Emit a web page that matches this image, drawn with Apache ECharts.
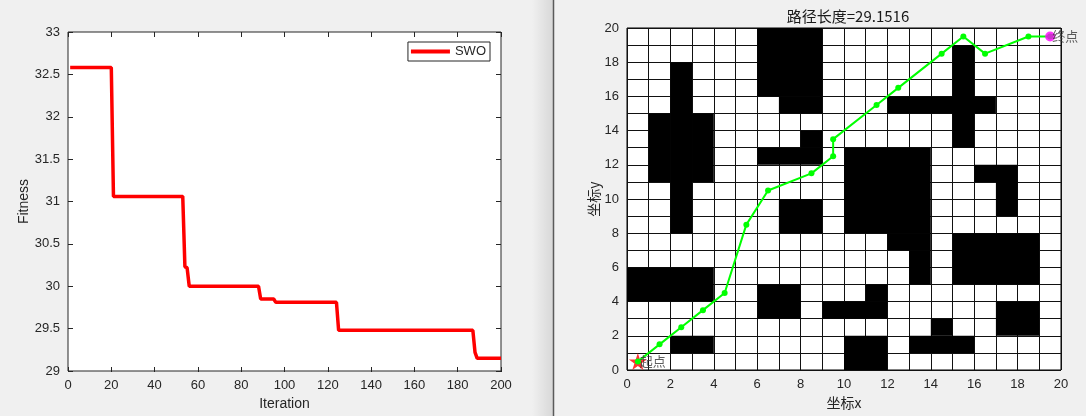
<!DOCTYPE html>
<html>
<head>
<meta charset="utf-8">
<script src="https://cdn.jsdelivr.net/npm/echarts@6/dist/echarts.min.js"></script>
<style>
html,body{margin:0;padding:0;background:#f0f0f0;}
#main{width:1086px;height:416px;}
</style>
</head>
<body>
<div id="main"></div>
<script>
// ---- Left panel: fitness convergence (values read at the step change points) ----
const fitnessIter = [1, 20, 21, 53, 54, 55, 56, 88, 89, 95, 96, 124, 125, 187, 188, 189, 200];
const fitnessVal  = [32.58, 32.58, 31.06, 31.06, 30.23, 30.22, 30.0, 30.0, 29.85, 29.85, 29.81, 29.81, 29.48, 29.48, 29.22, 29.15, 29.15];
const seriesName = 'SWO';

// ---- Right panel: grid map ----
// obstacle blocks: [colStart, rowStart, colEnd, rowEnd] (inclusive cell indices)
const obstacles = [
  [6, 16, 8, 19], [7, 15, 8, 15], [2, 8, 2, 17], [1, 11, 1, 14], [3, 11, 3, 14],
  [8, 13, 8, 13], [6, 12, 8, 12], [10, 8, 13, 12], [12, 7, 13, 7], [13, 5, 13, 6],
  [15, 13, 15, 18], [12, 15, 16, 15], [16, 11, 17, 11], [17, 9, 17, 10],
  [15, 5, 18, 7], [17, 2, 18, 3], [7, 8, 8, 9], [0, 4, 3, 5], [6, 3, 7, 4],
  [9, 3, 11, 3], [11, 4, 11, 4], [14, 2, 14, 2], [13, 1, 15, 1], [10, 0, 11, 1], [2, 1, 3, 1]
];
const pathX = [0.5, 1.5, 2.5, 3.5, 4.5, 5.5, 6.5, 8.5, 9.5, 9.5, 11.5, 12.5, 14.5, 15.5, 16.5, 18.5, 19.5];
const pathY = [0.5, 1.5, 2.5, 3.5, 4.5, 8.5, 10.5, 11.5, 12.5, 13.5, 15.5, 16.5, 18.5, 19.5, 18.5, 19.5, 19.5];
const startPt = [0.5, 0.5];
const endPt = [19.5, 19.5];
const startLabel = '起点';
const endLabel = '终点';
const mapTitle = '路径长度=29.1516';

const FONT = "'Liberation Sans', Arial, 'Noto Sans CJK SC', sans-serif";
const CJK = "'Noto Sans CJK SC', 'Liberation Sans', sans-serif";
const TXT = '#262626';

const chart = echarts.init(document.getElementById('main'));

const starPath = 'path://M50,0 L61.2,34.5 L97.6,34.5 L68.2,55.9 L79.4,90.5 L50,69.1 L20.6,90.5 L31.8,55.9 L2.4,34.5 L38.8,34.5 Z';

const tickOnly = { show: true, length: 5, lineStyle: { color: TXT, width: 1 } };

const option = {
  animation: false,
  backgroundColor: '#f0f0f0',
  textStyle: { fontFamily: FONT },
  title: {
    text: mapTitle,
    left: 843, top: 4, textAlign: 'center',
    textStyle: { fontFamily: CJK, fontSize: 15, fontWeight: 'normal', color: '#1a1a1a' }
  },
  legend: {
    data: [seriesName],
    right: 596, top: 42,
    icon: 'rect', itemWidth: 39, itemHeight: 4, itemGap: 5,
    padding: [3, 4, 3, 3],
    backgroundColor: '#fff', borderColor: TXT, borderWidth: 1, borderRadius: 0,
    textStyle: { fontFamily: FONT, fontSize: 13, color: TXT, padding: [0, 0, 0, 0] }
  },
  graphic: [
    {
      type: 'rect', silent: true, z: 100,
      shape: { x: 532, y: 0, width: 21, height: 416 },
      style: {
        fill: new echarts.graphic.LinearGradient(0, 0, 1, 0, [
          { offset: 0, color: 'rgba(0,0,0,0)' },
          { offset: 1, color: 'rgba(0,0,0,0.10)' }
        ])
      }
    },
    {
      type: 'line', silent: true, z: 101,
      shape: { x1: 553.5, y1: 0, x2: 553.5, y2: 416 },
      style: { stroke: '#5a5a5a', lineWidth: 1.5 }
    }
  ],
  grid: [
    { left: 68, top: 32, width: 433, height: 340, show: true, backgroundColor: '#fff', borderColor: TXT, borderWidth: 1 },
    { left: 627, top: 28, width: 434, height: 342, show: true, backgroundColor: '#fff', borderColor: '#000', borderWidth: 1 }
  ],
  xAxis: [
    {
      gridIndex: 0, type: 'value', min: 0, max: 200, interval: 20,
      name: 'Iteration', nameLocation: 'middle', nameGap: 26,
      nameTextStyle: { fontSize: 14, color: TXT, fontFamily: FONT },
      axisLine: { show: false, onZero: false },
      axisTick: { show: false },
      axisLabel: { fontSize: 13, color: TXT, margin: 8, fontFamily: FONT },
      splitLine: { show: false }
    },
    {
      gridIndex: 0, type: 'value', min: 0, max: 200, interval: 20, position: 'top',
      axisLine: { show: false, onZero: false },
      axisTick: Object.assign({ inside: true }, tickOnly),
      axisLabel: { show: false }, splitLine: { show: false }
    },
    {
      gridIndex: 0, type: 'value', min: 0, max: 200, interval: 20, position: 'top', offset: -340,
      axisLine: { show: false, onZero: false },
      axisTick: Object.assign({ inside: false }, tickOnly),
      axisLabel: { show: false }, splitLine: { show: false }
    },
    {
      gridIndex: 1, type: 'value', min: 0, max: 20, interval: 2,
      name: '坐标x', nameLocation: 'middle', nameGap: 26,
      nameTextStyle: { fontSize: 14, color: TXT, fontFamily: CJK },
      axisLine: { show: false, onZero: false }, axisTick: { show: false },
      axisLabel: { fontSize: 13, color: TXT, margin: 8, fontFamily: FONT },
      splitLine: { show: true, lineStyle: { color: '#111', width: 1 } },
      minorTick: { show: false, splitNumber: 2 },
      minorSplitLine: { show: true, lineStyle: { color: '#111', width: 1 } }
    }
  ],
  yAxis: [
    {
      gridIndex: 0, type: 'value', min: 29, max: 33, interval: 0.5,
      name: 'Fitness', nameLocation: 'middle', nameGap: 33, nameRotate: 90,
      nameTextStyle: { fontSize: 14, color: TXT, fontFamily: FONT },
      axisLine: { show: false, onZero: false },
      axisTick: { show: false },
      axisLabel: { fontSize: 13, color: TXT, margin: 8, fontFamily: FONT },
      splitLine: { show: false }
    },
    {
      gridIndex: 0, type: 'value', min: 29, max: 33, interval: 0.5, position: 'right',
      axisLine: { show: false, onZero: false },
      axisTick: Object.assign({ inside: true }, tickOnly),
      axisLabel: { show: false }, splitLine: { show: false }
    },
    {
      gridIndex: 0, type: 'value', min: 29, max: 33, interval: 0.5, position: 'right', offset: -433,
      axisLine: { show: false, onZero: false },
      axisTick: Object.assign({ inside: false }, tickOnly),
      axisLabel: { show: false }, splitLine: { show: false }
    },
    {
      gridIndex: 1, type: 'value', min: 0, max: 20, interval: 2,
      name: '坐标y', nameLocation: 'middle', nameGap: 24, nameRotate: 90,
      nameTextStyle: { fontSize: 14, color: TXT, fontFamily: CJK },
      axisLine: { show: false, onZero: false }, axisTick: { show: false },
      axisLabel: { fontSize: 13, color: TXT, margin: 8, fontFamily: FONT },
      splitLine: { show: true, lineStyle: { color: '#111', width: 1 } },
      minorTick: { show: false, splitNumber: 2 },
      minorSplitLine: { show: true, lineStyle: { color: '#111', width: 1 } }
    }
  ],
  series: [
    {
      name: seriesName, type: 'line', xAxisIndex: 0, yAxisIndex: 0,
      data: fitnessIter.map((x, i) => [x, fitnessVal[i]]),
      showSymbol: false, symbol: 'none',
      lineStyle: { color: '#ff0000', width: 3.5 }, itemStyle: { color: '#ff0000' }
    },
    {
      type: 'custom', xAxisIndex: 3, yAxisIndex: 3, silent: true,
      data: obstacles,
      renderItem: function (params, api) {
        const p0 = api.coord([api.value(0), api.value(3) + 1]);
        const p1 = api.coord([api.value(2) + 1, api.value(1)]);
        return {
          type: 'rect',
          shape: { x: p0[0], y: p0[1], width: p1[0] - p0[0], height: p1[1] - p0[1] },
          style: { fill: '#000' }
        };
      },
      z: 2
    },
    {
      type: 'scatter', xAxisIndex: 3, yAxisIndex: 3, silent: true,
      data: [startPt], symbol: starPath, symbolSize: [18, 17],
      itemStyle: { color: '#ff0000' }, z: 3
    },
    {
      type: 'line', xAxisIndex: 3, yAxisIndex: 3, silent: true,
      data: pathX.map((x, i) => [x, pathY[i]]),
      symbol: 'circle', symbolSize: 6, showSymbol: true,
      lineStyle: { color: '#00ff00', width: 2 }, itemStyle: { color: '#00ff00' }, z: 4
    },
    {
      type: 'scatter', xAxisIndex: 3, yAxisIndex: 3, silent: true,
      data: [endPt], symbol: 'circle', symbolSize: 10,
      itemStyle: { color: '#ff00ff' }, z: 5
    },
    {
      type: 'scatter', xAxisIndex: 3, yAxisIndex: 3, silent: true,
      data: [
        { value: startPt, label: { formatter: startLabel } },
        { value: endPt, label: { formatter: endLabel } }
      ],
      symbolSize: 0,
      label: { show: true, position: 'right', distance: 2, fontFamily: CJK, fontSize: 13, color: '#333' },
      z: 6
    }
  ]
};
chart.setOption(option);
</script>
</body>
</html>
